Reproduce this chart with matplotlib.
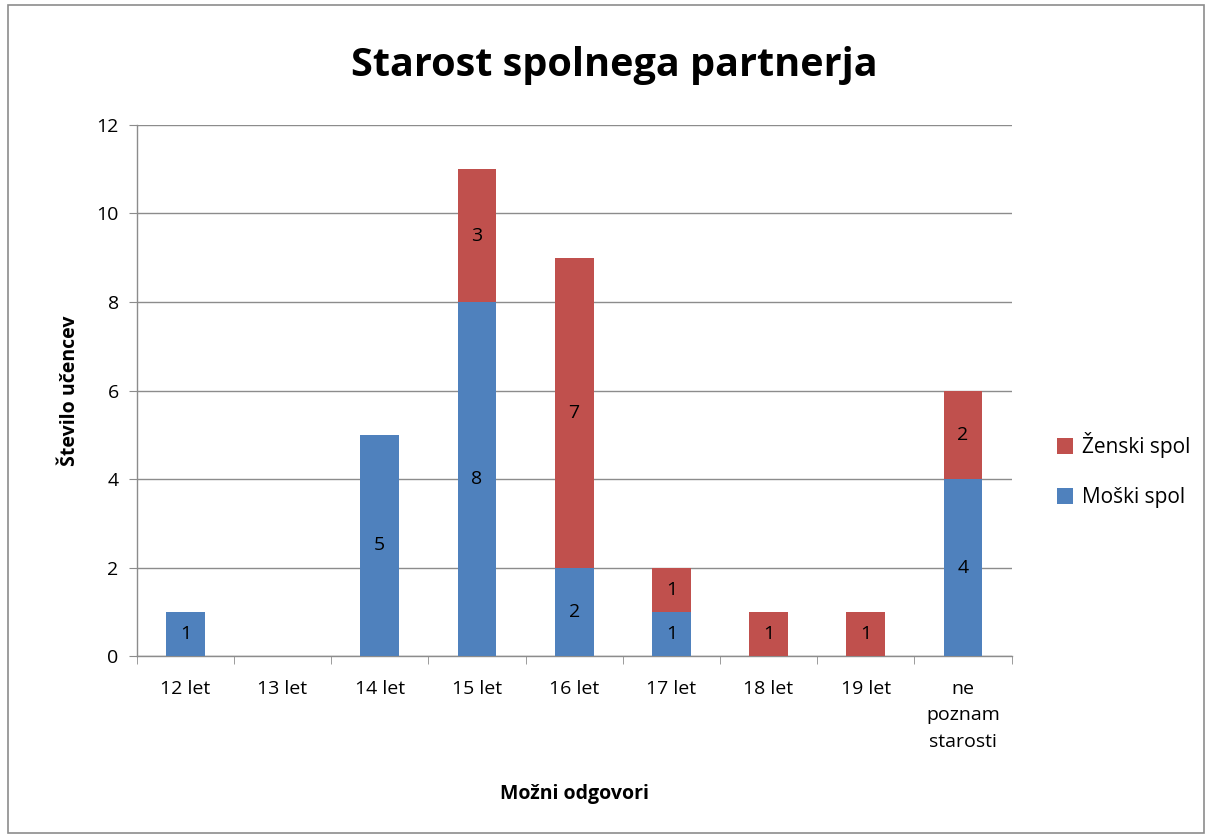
"""Stacked bar chart: Starost spolnega partnerja."""

import matplotlib.pyplot as plt
from matplotlib.patches import Rectangle
import numpy as np

plt.rcParams["font.family"] = ["Open Sans", "DejaVu Sans"]

CATEGORIES = ["12 let", "13 let", "14 let", "15 let", "16 let", "17 let",
              "18 let", "19 let", "ne\npoznam\nstarosti"]
MOSKI = [1, 0, 5, 8, 2, 1, 0, 0, 4]
ZENSKI = [0, 0, 0, 3, 7, 1, 1, 1, 2]

BLUE = "#4F81BD"
RED = "#C0504D"


def label_segments(ax, bars, values, bottoms):
    for bar, v, b in zip(bars, values, bottoms):
        if v > 0:
            ax.text(bar.get_x() + bar.get_width() / 2, b + v / 2, str(v),
                    ha="center", va="center", fontsize=14, color="black")


def main():
    fig = plt.figure(figsize=(12.1, 8.38), dpi=100)
    fig.patches.append(Rectangle((0.007, 0.006), 0.988, 0.988, transform=fig.transFigure,
                                 fill=False, edgecolor="#8c8c8c", linewidth=1.2))
    ax = fig.add_axes([0.113, 0.217, 0.723, 0.634])

    x = np.arange(len(CATEGORIES))
    width = 0.4
    b1 = ax.bar(x, MOSKI, width, color=BLUE, label="Moški spol", zorder=3)
    b2 = ax.bar(x, ZENSKI, width, bottom=MOSKI, color=RED, label="Ženski spol", zorder=3)
    label_segments(ax, b1, MOSKI, [0] * len(MOSKI))
    label_segments(ax, b2, ZENSKI, MOSKI)

    ax.set_xlim(-0.5, len(CATEGORIES) - 0.5)
    ax.set_ylim(0, 12)
    ax.set_yticks(range(0, 13, 2))
    ax.set_xticks(x)
    ax.set_xticklabels(CATEGORIES, fontsize=14, va="top", linespacing=1.6)
    ax.set_xticks(np.arange(-0.5, len(CATEGORIES), 1), minor=True)
    ax.tick_params(axis="x", which="major", length=0, pad=17)
    ax.tick_params(axis="x", which="minor", length=6, color="#8c8c8c", direction="out")
    ax.tick_params(axis="y", labelsize=14, length=6, color="#8c8c8c", direction="out", pad=7)

    ax.grid(axis="y", color="#8c8c8c", linewidth=1.0, zorder=0)
    for s in ("top", "right"):
        ax.spines[s].set_visible(False)
    for s in ("left", "bottom"):
        ax.spines[s].set_color("#8c8c8c")
        ax.spines[s].set_linewidth(1.0)

    ax.set_ylabel("Število učencev", fontsize=14, fontweight="bold", labelpad=12)
    ax.set_xlabel("Možni odgovori", fontsize=14, fontweight="bold", labelpad=24)
    fig.text(0.508, 0.922, "Starost spolnega partnerja", ha="center", va="center",
             fontsize=28.5, fontweight="bold")

    handles = [b2, b1]
    ax.legend(handles, ["Ženski spol", "Moški spol"], loc="center left",
              bbox_to_anchor=(1.03, 0.35), frameon=False, fontsize=15,
              handlelength=0.8, handleheight=0.8, labelspacing=1.4, handletextpad=0.4)

    fig.savefig("out.png", dpi=100)


if __name__ == "__main__":
    main()
